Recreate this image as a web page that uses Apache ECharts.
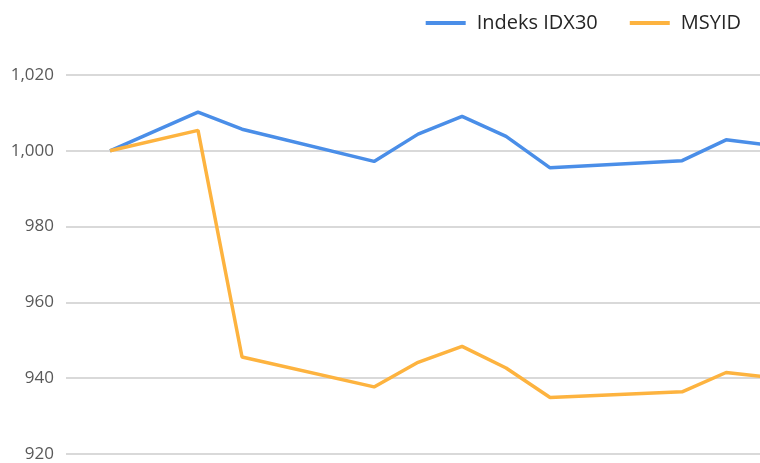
<!DOCTYPE html>
<html>
<head>
<meta charset="utf-8">
<script src="https://cdn.jsdelivr.net/npm/echarts@6/dist/echarts.min.js"></script>
<style>
  html, body { margin: 0; padding: 0; background: #fff; }
  #chart { width: 760px; height: 463px; }
</style>
</head>
<body>
<div id="chart"></div>
<script>
// trading day index (gaps = weekends / holiday)
var days = [0, 2, 3, 6, 7, 8, 9, 10, 13, 14, 15];
var idx30 = [1000, 1010.2, 1005.7, 997.2, 1004.4, 1009.1, 1003.8, 995.5, 997.4, 1002.9, 1001.5];
var msyid = [1000, 1005.4, 945.6, 937.7, 944.2, 948.4, 942.7, 934.9, 936.4, 941.5, 940.2];
var yTicks = [920, 940, 960, 980, 1000, 1020];

function pairs(xs, ys) {
  return xs.map(function (x, i) { return [x, ys[i]]; });
}

var chart = echarts.init(document.getElementById("chart"));
var option = {
  backgroundColor: "#fff",
  animation: false,
  legend: {
    top: 8,
    right: 14,
    itemWidth: 40,
    itemHeight: 4,
    itemGap: 32,
    icon: "rect",
    textStyle: { color: "#262626", fontSize: 20, fontFamily: "Open Sans", padding: [0, 0, 0, 6] },
    data: ["Indeks IDX30", "MSYID"]
  },
  grid: { left: 66, right: 0, top: 75, bottom: 9 },
  xAxis: {
    type: "value",
    min: -1,
    max: 14.77, // chart is cropped mid-segment on the right
    show: false
  },
  yAxis: {
    type: "value",
    min: yTicks[0],
    max: yTicks[yTicks.length - 1],
    interval: 20,
    axisLine: { show: false },
    axisTick: { show: false },
    axisLabel: {
      color: "#595959",
      fontSize: 17,
      fontFamily: "Open Sans",
      margin: 12,
      formatter: function (v) { return v.toLocaleString("en-US"); }
    },
    splitLine: { lineStyle: { color: "#d9d9d9", width: 2 } }
  },
  series: [
    {
      name: "Indeks IDX30",
      type: "line",
      data: pairs(days, idx30),
      symbol: "none",
      lineStyle: { width: 3.5, color: "#4a8ee8" },
      itemStyle: { color: "#4a8ee8" }
    },
    {
      name: "MSYID",
      type: "line",
      data: pairs(days, msyid),
      symbol: "none",
      lineStyle: { width: 3.5, color: "#fdb33f" },
      itemStyle: { color: "#fdb33f" }
    }
  ]
};
chart.setOption(option);
</script>
</body>
</html>
